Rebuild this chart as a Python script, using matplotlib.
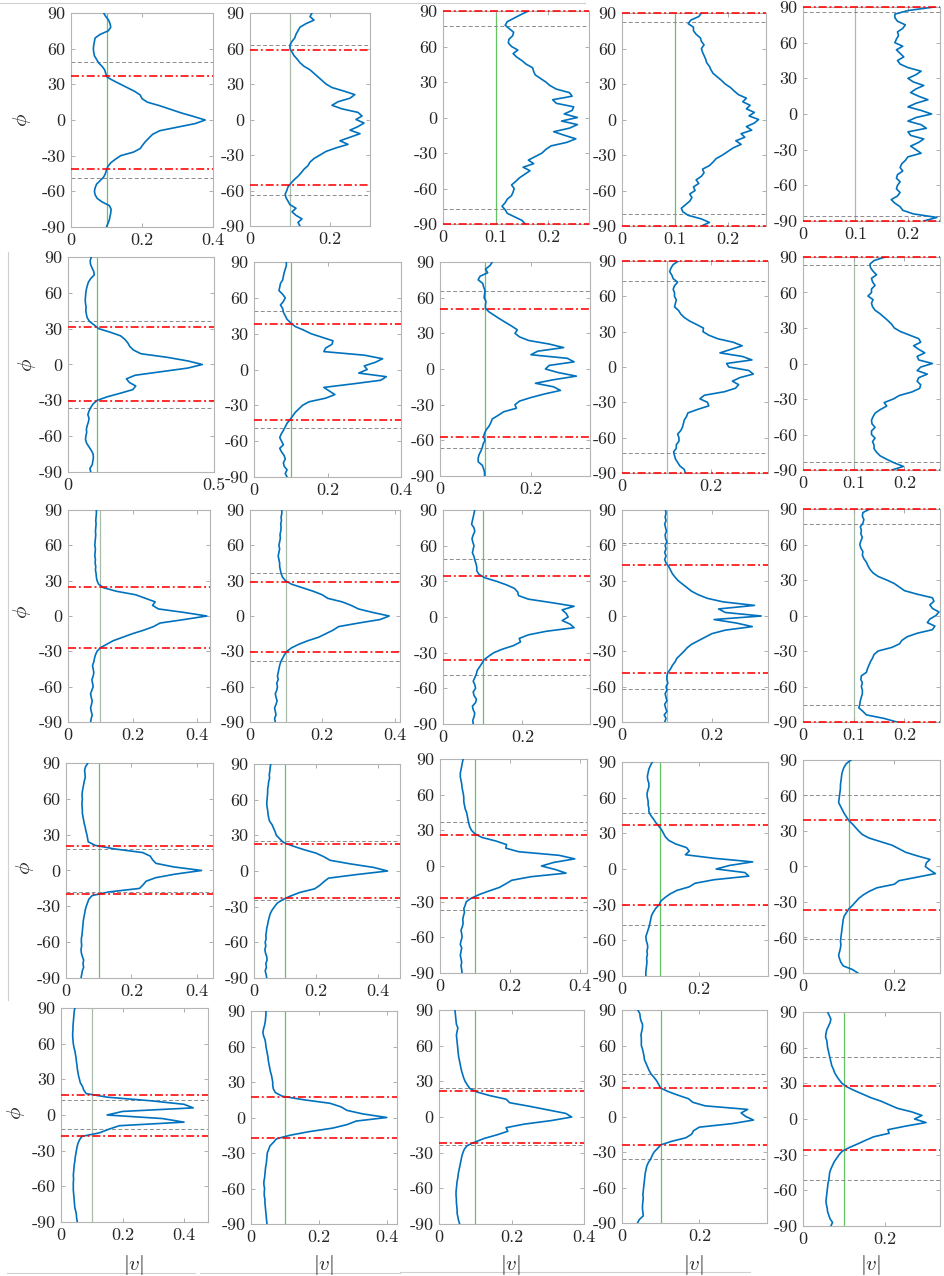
import numpy as np
import matplotlib
matplotlib.use("Agg")
import matplotlib.pyplot as plt
from matplotlib.lines import Line2D

plt.rcParams.update({
    "font.family": ["cmr10", "DejaVu Serif"],
    "mathtext.fontset": "cm",
    "axes.unicode_minus": False,
    "axes.formatter.use_mathtext": True,
})

# latitude grid (deg) shared by every panel
PHI = np.arange(-90, 91, 3)

# |v| profiles, rows of 10 values from phi=-90 upward
v11 = [0.100, 0.104, 0.108, 0.110, 0.112, 0.113, 0.108, 0.088, 0.074, 0.068,
       0.066, 0.068, 0.072, 0.082, 0.092, 0.097, 0.100, 0.104, 0.112, 0.125,
       0.140, 0.176, 0.195, 0.202, 0.210, 0.220, 0.230, 0.250, 0.300, 0.350,
       0.378, 0.345, 0.310, 0.280, 0.250, 0.215, 0.200, 0.195, 0.180, 0.160,
       0.140, 0.120, 0.102, 0.098, 0.095, 0.088, 0.078, 0.072, 0.066, 0.064,
       0.063, 0.064, 0.066, 0.068, 0.082, 0.105, 0.112, 0.110, 0.106, 0.098,
       0.092]
v12 = [0.125, 0.120, 0.130, 0.115, 0.105, 0.115, 0.100, 0.095, 0.090, 0.088,
       0.092, 0.095, 0.102, 0.110, 0.120, 0.128, 0.135, 0.145, 0.150, 0.160,
       0.175, 0.190, 0.215, 0.245, 0.225, 0.250, 0.275, 0.250, 0.270, 0.285,
       0.265, 0.280, 0.270, 0.230, 0.205, 0.220, 0.250, 0.262, 0.235, 0.205,
       0.190, 0.180, 0.170, 0.160, 0.150, 0.135, 0.125, 0.118, 0.110, 0.105,
       0.100, 0.100, 0.105, 0.112, 0.115, 0.120, 0.125, 0.140, 0.160, 0.150,
       0.155]
v13 = [0.156, 0.150, 0.136, 0.122, 0.118, 0.112, 0.118, 0.122, 0.130, 0.133,
       0.135, 0.130, 0.138, 0.145, 0.155, 0.165, 0.152, 0.172, 0.162, 0.175,
       0.188, 0.195, 0.205, 0.235, 0.252, 0.230, 0.210, 0.240, 0.255, 0.225,
       0.255, 0.230, 0.245, 0.248, 0.215, 0.208, 0.245, 0.240, 0.215, 0.203,
       0.195, 0.185, 0.175, 0.172, 0.170, 0.158, 0.150, 0.140, 0.133, 0.142,
       0.130, 0.124, 0.125, 0.132, 0.134, 0.126, 0.118, 0.122, 0.135, 0.148,
       0.162]
v14 = [0.150, 0.165, 0.150, 0.125, 0.115, 0.112, 0.120, 0.128, 0.132, 0.128,
       0.138, 0.135, 0.145, 0.140, 0.150, 0.155, 0.152, 0.165, 0.172, 0.178,
       0.190, 0.200, 0.210, 0.225, 0.215, 0.232, 0.225, 0.245, 0.235, 0.250,
       0.258, 0.240, 0.250, 0.235, 0.242, 0.228, 0.235, 0.220, 0.212, 0.205,
       0.195, 0.188, 0.180, 0.172, 0.168, 0.165, 0.160, 0.158, 0.155, 0.152,
       0.150, 0.155, 0.150, 0.148, 0.140, 0.135, 0.135, 0.125, 0.130, 0.145,
       0.150]
v15 = [0.230, 0.255, 0.210, 0.190, 0.185, 0.175, 0.168, 0.180, 0.185, 0.178,
       0.180, 0.185, 0.178, 0.180, 0.190, 0.185, 0.188, 0.195, 0.200, 0.225,
       0.215, 0.205, 0.220, 0.230, 0.205, 0.200, 0.235, 0.225, 0.200, 0.215,
       0.245, 0.225, 0.200, 0.215, 0.238, 0.220, 0.205, 0.215, 0.230, 0.210,
       0.200, 0.215, 0.225, 0.200, 0.185, 0.180, 0.192, 0.185, 0.178, 0.190,
       0.175, 0.178, 0.182, 0.180, 0.190, 0.195, 0.180, 0.175, 0.175, 0.200,
       0.250]
v21 = [0.078, 0.075, 0.083, 0.085, 0.087, 0.086, 0.080, 0.072, 0.064, 0.060,
       0.061, 0.064, 0.063, 0.066, 0.070, 0.072, 0.068, 0.072, 0.078, 0.086,
       0.100, 0.135, 0.180, 0.222, 0.232, 0.210, 0.200, 0.230, 0.320, 0.410,
       0.460, 0.410, 0.340, 0.250, 0.225, 0.212, 0.205, 0.195, 0.180, 0.145,
       0.105, 0.090, 0.074, 0.066, 0.063, 0.061, 0.062, 0.060, 0.059, 0.060,
       0.061, 0.063, 0.066, 0.070, 0.078, 0.090, 0.088, 0.082, 0.077, 0.076,
       0.080]
v22 = [0.090, 0.085, 0.090, 0.082, 0.080, 0.085, 0.082, 0.075, 0.070, 0.080,
       0.075, 0.070, 0.074, 0.080, 0.085, 0.090, 0.098, 0.105, 0.112, 0.122,
       0.132, 0.150, 0.195, 0.220, 0.205, 0.190, 0.270, 0.345, 0.360, 0.285,
       0.308, 0.300, 0.330, 0.350, 0.300, 0.190, 0.195, 0.212, 0.215, 0.185,
       0.155, 0.135, 0.112, 0.100, 0.090, 0.085, 0.080, 0.078, 0.072, 0.080,
       0.085, 0.078, 0.068, 0.070, 0.072, 0.078, 0.080, 0.082, 0.085, 0.088,
       0.088]
v23 = [0.098, 0.098, 0.096, 0.093, 0.084, 0.084, 0.086, 0.090, 0.093, 0.095,
       0.099, 0.096, 0.098, 0.102, 0.108, 0.112, 0.115, 0.128, 0.140, 0.168,
       0.165, 0.175, 0.200, 0.230, 0.265, 0.250, 0.210, 0.250, 0.300, 0.260,
       0.232, 0.240, 0.295, 0.280, 0.200, 0.215, 0.272, 0.240, 0.195, 0.175,
       0.165, 0.170, 0.158, 0.145, 0.132, 0.120, 0.108, 0.100, 0.100, 0.101,
       0.097, 0.098, 0.099, 0.096, 0.094, 0.084, 0.088, 0.105, 0.100, 0.110,
       0.115]
v24 = [0.142, 0.140, 0.130, 0.125, 0.120, 0.118, 0.116, 0.122, 0.122, 0.128,
       0.128, 0.125, 0.132, 0.136, 0.138, 0.140, 0.145, 0.148, 0.170, 0.195,
       0.192, 0.175, 0.185, 0.230, 0.255, 0.262, 0.248, 0.265, 0.295, 0.285,
       0.240, 0.235, 0.292, 0.270, 0.220, 0.245, 0.270, 0.250, 0.215, 0.195,
       0.182, 0.183, 0.168, 0.152, 0.140, 0.132, 0.127, 0.118, 0.120, 0.122,
       0.118, 0.118, 0.115, 0.118, 0.125, 0.115, 0.112, 0.107, 0.110, 0.115,
       0.127]
v25 = [0.175, 0.198, 0.180, 0.165, 0.152, 0.145, 0.140, 0.140, 0.137, 0.142,
       0.135, 0.135, 0.142, 0.136, 0.135, 0.138, 0.142, 0.152, 0.165, 0.160,
       0.178, 0.190, 0.215, 0.230, 0.232, 0.225, 0.228, 0.245, 0.225, 0.232,
       0.255, 0.228, 0.225, 0.240, 0.228, 0.218, 0.232, 0.228, 0.210, 0.192,
       0.180, 0.175, 0.168, 0.160, 0.152, 0.142, 0.137, 0.135, 0.138, 0.128,
       0.135, 0.135, 0.142, 0.137, 0.135, 0.145, 0.138, 0.133, 0.132, 0.140,
       0.162]
v31 = [0.070, 0.072, 0.075, 0.072, 0.070, 0.073, 0.075, 0.072, 0.070, 0.074,
       0.078, 0.076, 0.074, 0.078, 0.080, 0.078, 0.076, 0.080, 0.082, 0.085,
       0.090, 0.100, 0.120, 0.140, 0.170, 0.200, 0.235, 0.265, 0.285, 0.360,
       0.430, 0.360, 0.280, 0.262, 0.270, 0.240, 0.210, 0.150, 0.110, 0.095,
       0.090, 0.088, 0.087, 0.085, 0.086, 0.084, 0.085, 0.083, 0.084, 0.085,
       0.083, 0.084, 0.085, 0.086, 0.085, 0.086, 0.087, 0.086, 0.087, 0.088,
       0.088]
v32 = [0.070, 0.068, 0.072, 0.070, 0.068, 0.072, 0.075, 0.072, 0.070, 0.074,
       0.076, 0.074, 0.078, 0.076, 0.078, 0.080, 0.082, 0.085, 0.090, 0.095,
       0.102, 0.115, 0.135, 0.160, 0.190, 0.210, 0.230, 0.245, 0.300, 0.360,
       0.385, 0.340, 0.300, 0.280, 0.255, 0.215, 0.200, 0.175, 0.145, 0.115,
       0.098, 0.090, 0.086, 0.084, 0.082, 0.082, 0.080, 0.078, 0.080, 0.082,
       0.080, 0.082, 0.084, 0.083, 0.085, 0.086, 0.085, 0.087, 0.086, 0.088,
       0.088]
v33 = [0.076, 0.075, 0.078, 0.080, 0.076, 0.074, 0.082, 0.084, 0.078, 0.076,
       0.082, 0.080, 0.076, 0.080, 0.084, 0.086, 0.092, 0.098, 0.103, 0.115,
       0.128, 0.150, 0.178, 0.195, 0.192, 0.215, 0.260, 0.330, 0.320, 0.300,
       0.315, 0.310, 0.300, 0.330, 0.275, 0.215, 0.190, 0.188, 0.180, 0.160,
       0.135, 0.105, 0.090, 0.085, 0.085, 0.083, 0.080, 0.078, 0.074, 0.076,
       0.078, 0.075, 0.073, 0.076, 0.080, 0.078, 0.072, 0.074, 0.076, 0.078,
       0.080]
v34 = [0.095, 0.098, 0.094, 0.100, 0.097, 0.095, 0.100, 0.098, 0.096, 0.100,
       0.098, 0.102, 0.100, 0.100, 0.102, 0.108, 0.112, 0.118, 0.122, 0.130,
       0.138, 0.145, 0.155, 0.170, 0.185, 0.200, 0.230, 0.290, 0.255, 0.205,
       0.310, 0.230, 0.215, 0.295, 0.225, 0.190, 0.170, 0.155, 0.145, 0.135,
       0.125, 0.118, 0.112, 0.108, 0.104, 0.098, 0.095, 0.098, 0.095, 0.098,
       0.096, 0.100, 0.097, 0.096, 0.099, 0.097, 0.095, 0.098, 0.096, 0.098,
       0.097]
v35 = [0.185, 0.160, 0.125, 0.118, 0.110, 0.112, 0.113, 0.115, 0.117, 0.117,
       0.115, 0.117, 0.114, 0.115, 0.125, 0.127, 0.130, 0.133, 0.137, 0.140,
       0.148, 0.175, 0.190, 0.195, 0.205, 0.225, 0.255, 0.260, 0.245, 0.250,
       0.262, 0.268, 0.255, 0.250, 0.258, 0.255, 0.225, 0.200, 0.190, 0.180,
       0.165, 0.148, 0.138, 0.132, 0.128, 0.125, 0.120, 0.117, 0.118, 0.114,
       0.112, 0.114, 0.117, 0.114, 0.115, 0.113, 0.118, 0.120, 0.117, 0.118,
       0.132]
v41 = [0.046, 0.048, 0.050, 0.054, 0.052, 0.054, 0.050, 0.047, 0.046, 0.048,
       0.047, 0.047, 0.049, 0.050, 0.051, 0.052, 0.053, 0.055, 0.057, 0.059,
       0.062, 0.066, 0.070, 0.080, 0.130, 0.225, 0.236, 0.245, 0.275, 0.335,
       0.415, 0.330, 0.275, 0.265, 0.258, 0.235, 0.150, 0.090, 0.068, 0.066,
       0.064, 0.061, 0.059, 0.056, 0.054, 0.052, 0.050, 0.050, 0.049, 0.049,
       0.050, 0.049, 0.050, 0.052, 0.054, 0.056, 0.059, 0.058, 0.057, 0.060,
       0.067]
v42 = [0.041, 0.039, 0.036, 0.040, 0.038, 0.042, 0.041, 0.037, 0.035, 0.038,
       0.036, 0.039, 0.038, 0.040, 0.041, 0.044, 0.046, 0.049, 0.052, 0.058,
       0.066, 0.075, 0.093, 0.118, 0.148, 0.195, 0.212, 0.225, 0.240, 0.330,
       0.430, 0.385, 0.310, 0.245, 0.225, 0.200, 0.160, 0.125, 0.095, 0.083,
       0.072, 0.068, 0.063, 0.058, 0.050, 0.047, 0.045, 0.044, 0.042, 0.041,
       0.042, 0.043, 0.044, 0.044, 0.046, 0.047, 0.050, 0.049, 0.051, 0.052,
       0.054]
v43 = [0.063, 0.062, 0.060, 0.062, 0.060, 0.058, 0.060, 0.062, 0.058, 0.060,
       0.063, 0.062, 0.060, 0.064, 0.066, 0.065, 0.067, 0.070, 0.068, 0.072,
       0.075, 0.090, 0.112, 0.140, 0.170, 0.188, 0.205, 0.260, 0.360, 0.330,
       0.290, 0.325, 0.385, 0.340, 0.225, 0.188, 0.190, 0.160, 0.120, 0.100,
       0.090, 0.085, 0.082, 0.080, 0.078, 0.076, 0.072, 0.070, 0.068, 0.068,
       0.067, 0.065, 0.063, 0.062, 0.060, 0.058, 0.058, 0.060, 0.062, 0.064,
       0.066]
v44 = [0.062, 0.062, 0.063, 0.064, 0.065, 0.064, 0.066, 0.065, 0.067, 0.066,
       0.063, 0.062, 0.065, 0.068, 0.071, 0.073, 0.075, 0.077, 0.082, 0.088,
       0.097, 0.101, 0.112, 0.125, 0.143, 0.175, 0.190, 0.240, 0.330, 0.320,
       0.245, 0.280, 0.340, 0.240, 0.165, 0.175, 0.168, 0.140, 0.122, 0.113,
       0.108, 0.103, 0.096, 0.088, 0.082, 0.075, 0.070, 0.070, 0.068, 0.068,
       0.066, 0.065, 0.067, 0.070, 0.070, 0.067, 0.066, 0.068, 0.070, 0.074,
       0.079]
v45 = [0.120, 0.108, 0.088, 0.083, 0.080, 0.078, 0.080, 0.082, 0.083, 0.082,
       0.083, 0.084, 0.085, 0.086, 0.087, 0.088, 0.090, 0.095, 0.100, 0.108,
       0.115, 0.122, 0.132, 0.145, 0.162, 0.200, 0.210, 0.250, 0.290, 0.278,
       0.268, 0.270, 0.278, 0.250, 0.225, 0.210, 0.195, 0.170, 0.145, 0.130,
       0.122, 0.115, 0.108, 0.100, 0.095, 0.090, 0.086, 0.082, 0.078, 0.079,
       0.080, 0.081, 0.082, 0.082, 0.083, 0.084, 0.085, 0.087, 0.090, 0.095,
       0.105]
v51 = [0.053, 0.051, 0.050, 0.048, 0.045, 0.044, 0.043, 0.042, 0.041, 0.040,
       0.040, 0.040, 0.041, 0.040, 0.041, 0.042, 0.043, 0.045, 0.046, 0.048,
       0.050, 0.052, 0.055, 0.060, 0.068, 0.125, 0.155, 0.190, 0.400, 0.330,
       0.150, 0.200, 0.430, 0.400, 0.290, 0.150, 0.082, 0.074, 0.070, 0.063,
       0.060, 0.057, 0.055, 0.053, 0.052, 0.050, 0.049, 0.047, 0.045, 0.042,
       0.040, 0.039, 0.038, 0.038, 0.039, 0.039, 0.040, 0.041, 0.042, 0.043,
       0.045]
v52 = [0.047, 0.046, 0.045, 0.044, 0.043, 0.042, 0.041, 0.041, 0.039, 0.039,
       0.040, 0.038, 0.038, 0.040, 0.041, 0.042, 0.043, 0.045, 0.046, 0.047,
       0.048, 0.052, 0.056, 0.066, 0.075, 0.115, 0.170, 0.240, 0.283, 0.310,
       0.400, 0.330, 0.283, 0.265, 0.233, 0.155, 0.092, 0.072, 0.066, 0.064,
       0.064, 0.062, 0.060, 0.057, 0.055, 0.053, 0.051, 0.050, 0.048, 0.046,
       0.044, 0.043, 0.041, 0.037, 0.035, 0.037, 0.040, 0.042, 0.043, 0.044,
       0.044]
v53 = [0.057, 0.054, 0.052, 0.050, 0.050, 0.049, 0.048, 0.048, 0.047, 0.047,
       0.048, 0.049, 0.050, 0.052, 0.053, 0.055, 0.057, 0.059, 0.061, 0.063,
       0.066, 0.070, 0.078, 0.100, 0.125, 0.160, 0.190, 0.185, 0.235, 0.310,
       0.366, 0.350, 0.300, 0.250, 0.195, 0.185, 0.140, 0.105, 0.085, 0.078,
       0.072, 0.068, 0.065, 0.062, 0.060, 0.058, 0.056, 0.054, 0.053, 0.052,
       0.051, 0.050, 0.049, 0.048, 0.050, 0.052, 0.048, 0.047, 0.046, 0.045,
       0.044]
v54 = [0.040, 0.045, 0.055, 0.054, 0.053, 0.053, 0.054, 0.055, 0.054, 0.055,
       0.056, 0.057, 0.058, 0.059, 0.060, 0.062, 0.064, 0.068, 0.074, 0.078,
       0.083, 0.092, 0.100, 0.128, 0.165, 0.180, 0.185, 0.200, 0.285, 0.340,
       0.320, 0.308, 0.325, 0.215, 0.183, 0.172, 0.145, 0.120, 0.100, 0.095,
       0.090, 0.083, 0.075, 0.070, 0.066, 0.062, 0.058, 0.057, 0.055, 0.053,
       0.050, 0.050, 0.050, 0.049, 0.051, 0.053, 0.053, 0.049, 0.047, 0.046,
       0.041]
v55 = [0.068, 0.072, 0.066, 0.063, 0.060, 0.059, 0.057, 0.056, 0.057, 0.058,
       0.059, 0.060, 0.061, 0.063, 0.064, 0.065, 0.068, 0.072, 0.076, 0.082,
       0.088, 0.096, 0.113, 0.133, 0.152, 0.172, 0.210, 0.207, 0.250, 0.300,
       0.272, 0.290, 0.265, 0.230, 0.210, 0.190, 0.165, 0.145, 0.125, 0.107,
       0.095, 0.088, 0.082, 0.077, 0.074, 0.070, 0.068, 0.066, 0.064, 0.062,
       0.060, 0.059, 0.058, 0.055, 0.056, 0.058, 0.062, 0.066, 0.068, 0.064,
       0.060]

curves = [v11, v12, v13, v14, v15,
          v21, v22, v23, v24, v25,
          v31, v32, v33, v34, v35,
          v41, v42, v43, v44, v45,
          v51, v52, v53, v54, v55]

# upper/lower cut latitudes (red) and secondary bounds (grey dashed)
red_lat = [(37, -41), (59, -55), (90, -90), (90, -90), (90, -90),
           (31.5, -30.5), (38.5, -42.5), (50.7, -57.2), (90, -90), (90, -90),
           (25, -27), (29, -30.5), (34.8, -36), (43, -48), (90, -90),
           (20.6, -20), (23, -23), (26.2, -27), (36.7, -30.6), (39.4, -36.6),
           (16.5, -18), (17.4, -17.2), (22, -21.5), (24.2, -24), (28.1, -26.2)]
grey_lat = [(49, -49), (63, -64), (77, -77), (82, -80), (86, -86),
            (36.5, -36.5), (48.8, -48.6), (65.6, -66.2), (73.4, -73), (83, -83),
            (), (36.5, -38), (48.6, -48.6), (62, -62), (77, -76),
            (18.3, -18.4), (25.5, -24.7), (37, -37), (47.4, -47.4), (60.5, -61),
            (12.9, -11.8), (), (24.5, -23.5), (35.7, -36), (52, -51)]
xmax = [0.4, 0.3, 0.277, 0.272, 0.261,
        0.5, 0.4, 0.33, 0.328, 0.27,
        0.44, 0.415, 0.37, 0.325, 0.27,
        0.45, 0.47, 0.42, 0.38, 0.30,
        0.478, 0.43, 0.4, 0.375, 0.334]
xticks = [[0, 0.2, 0.4], [0, 0.2], [0, 0.1, 0.2], [0, 0.1, 0.2], [0, 0.1, 0.2],
          [0, 0.5], [0, 0.2, 0.4], [0, 0.2], [0, 0.2], [0, 0.1, 0.2],
          [0, 0.2, 0.4], [0, 0.2, 0.4], [0, 0.2], [0, 0.2], [0, 0.1, 0.2],
          [0, 0.2, 0.4], [0, 0.2, 0.4], [0, 0.2, 0.4], [0, 0.2], [0, 0.2],
          [0, 0.2, 0.4], [0, 0.2, 0.4], [0, 0.2, 0.4], [0, 0.2], [0, 0.2]]

# axes boxes in pixels: left, right, top, bottom
boxes = [(71, 213, 13, 227), (250, 370, 13, 226), (443, 589, 11, 224), (622, 766, 13, 226), (803, 940, 7, 221),
         (68, 214, 257, 472), (254, 401, 262, 477), (440, 590, 262, 476), (622, 768, 261, 473), (803, 940, 257, 470),
         (68, 210, 510, 722), (250, 400, 510, 722), (443, 590, 510, 724), (622, 768, 510, 722), (803, 940, 509, 722),
         (66, 213, 763, 978), (254, 400, 764, 978), (440, 587, 759, 973), (622, 768, 762, 976), (803, 940, 760, 973),
         (61, 208, 1008, 1222), (251, 397, 1011, 1224), (439, 584, 1010, 1224), (622, 767, 1010, 1223), (803, 940, 1012, 1226)]
G, g = "#62c462", "#a9bba9"
vcol = [G, g, G, G, g,
        G, G, G, g, g,
        g, g, G, g, g,
        G, G, G, G, G,
        g, G, G, G, G]

W, H = 944, 1276
fig = plt.figure(figsize=(W / 100, H / 100), dpi=100)

for i in range(25):
    l, r, t, b = boxes[i]
    ax = fig.add_axes([l / W, 1 - b / H, (r - l) / W, (b - t) / H])
    ax.axvline(0.1, color=vcol[i], lw=0.9, zorder=1)
    for y in grey_lat[i]:
        ax.axhline(y, color="#8c8c8c", lw=0.7, ls=(0, (4, 2.5)), zorder=2)
    ax.plot(curves[i], PHI, color="#0072BD", lw=1.2, zorder=3)
    for y in red_lat[i]:
        ax.axhline(y, color="#ff0000", lw=1.15, ls=(0, (5, 1.8, 1.2, 1.8)),
                   zorder=4, clip_on=False)
    ax.set_xlim(0, xmax[i])
    ax.set_ylim(-90, 90)
    ax.set_xticks(xticks[i])
    ax.set_xticklabels([f"{x:g}" for x in xticks[i]])
    ax.set_yticks(range(-90, 91, 30))
    ax.set_yticklabels([str(y) for y in range(-90, 91, 30)])
    ax.tick_params(direction="in", top=True, right=True, length=3, width=0.6,
                   color="#a0a0a0", labelcolor="#262626", labelsize=13, pad=4)
    for s in ax.spines.values():
        s.set_color("#b4b4b4")
        s.set_linewidth(0.8)

# row labels and column labels
for x, y in [(22, 120), (27, 365), (22, 612), (25, 868), (16, 1113)]:
    fig.text(x / W, 1 - y / H, r"$\phi$", rotation=90, fontsize=15,
             ha="center", va="center", color="#262626")
for x in [134, 324, 511, 694, 871]:
    fig.text(x / W, 1 - 1265 / H, r"$|v|$", fontsize=15,
             ha="center", va="center", color="#262626")

# faint frame edges of the pasted sub-figures
for xs, ys in [((0, 585), (3, 3)), ((8, 8), (252, 1000)),
               ((7, 195), (1273, 1273)), ((200, 400), (1273, 1273)),
               ((400, 565), (1272, 1272)), ((565, 750), (1272, 1272))]:
    fig.add_artist(Line2D([x / W for x in xs], [1 - y / H for y in ys],
                          color="#d0d0d0", lw=0.8))

fig.savefig("out.png", dpi=100, facecolor="white")
